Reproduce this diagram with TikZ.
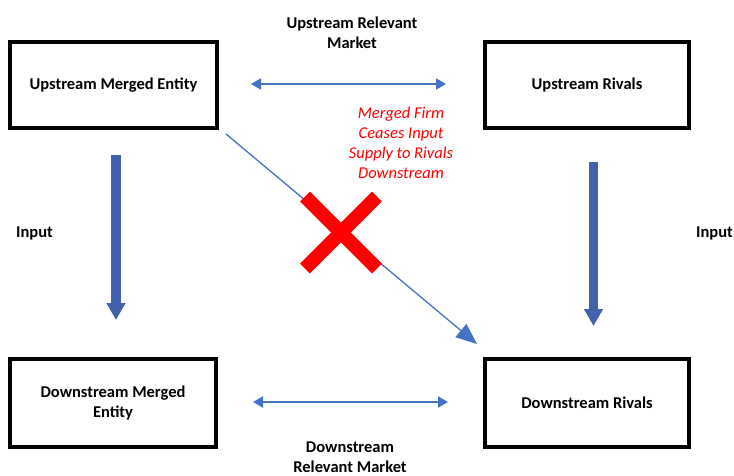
\documentclass[tikz,border=0pt]{standalone}
\usepackage{fontspec}
\setmainfont{Carlito}
\usetikzlibrary{arrows.meta}
\definecolor{thinblue}{RGB}{68,114,196}
\definecolor{thickblue}{RGB}{64,98,172}
\definecolor{xred}{RGB}{255,0,0}
\begin{document}
\begin{tikzpicture}[x=1pt,y=-1pt,
  entity/.style={draw=black,line width=4pt,fill=white,align=center,
    font=\fontsize{16.5}{20}\selectfont\bfseries},
  lbl/.style={align=center,font=\fontsize{16.5}{20}\selectfont\bfseries,inner sep=0pt},
  redlbl/.style={align=center,text=xred,font=\fontsize{16.5}{20}\selectfont\itshape,inner sep=0pt},
  market/.style={draw=thinblue,line width=2pt,{Triangle[length=10pt,width=11pt]}-{Triangle[length=10pt,width=11pt]}},
  supply/.style={draw=thickblue,line width=10pt,-{Triangle[length=17pt,width=18pt]}},
  cease/.style={draw=thinblue,line width=1.3pt,-{Triangle[length=21pt,width=17pt]}},
  xbar/.style={draw=xred,line width=14pt,line cap=butt}]
\useasboundingbox (0,0) rectangle (734,475);

\node[entity,minimum width=207pt,minimum height=86pt] (ume) at (113.5,85) {Upstream Merged Entity};
\node[entity,minimum width=204pt,minimum height=86pt] (ur) at (587,85) {Upstream Rivals};
\node[entity,minimum width=206pt,minimum height=88pt] (dme) at (113,403) {Downstream Merged\\Entity};
\node[entity,minimum width=204pt,minimum height=88pt] (dr) at (587,403) {Downstream Rivals};

\node[lbl] (urm) at (352,32.5) {Upstream Relevant\\Market};
\node[lbl] (drm) at (350,457) {Downstream\\Relevant Market};
\node[lbl] (inl) at (34.5,233) {Input};
\node[lbl] (inr) at (714.5,233) {Input};
\node[redlbl] (cease) at (401,143) {Merged Firm\\Ceases Input\\Supply to Rivals\\Downstream};

\coordinate (ta) at (251,84);
\coordinate (tb) at (446,84);
\coordinate (ba) at (253,402);
\coordinate (bb) at (448,402);
\draw[market] (ta) -- (tb);
\draw[market] (ba) -- (bb);

\coordinate (la) at (116,155);
\coordinate (lb) at (116,320);
\coordinate (ra) at (593.5,162);
\coordinate (rb) at (593.5,326);
\draw[supply] (la) -- (lb);
\draw[supply,line width=9pt] (ra) -- (rb);

\coordinate (da) at (226,134);
\coordinate (db) at (477,344);
\draw[cease] (da) -- (db);

\coordinate (xc) at (341,232.5);
\draw[xbar] ([shift={(-36,-36)}]xc) -- ([shift={(36,36)}]xc);
\draw[xbar] ([shift={(36,-36)}]xc) -- ([shift={(-36,36)}]xc);
\end{tikzpicture}
\end{document}
